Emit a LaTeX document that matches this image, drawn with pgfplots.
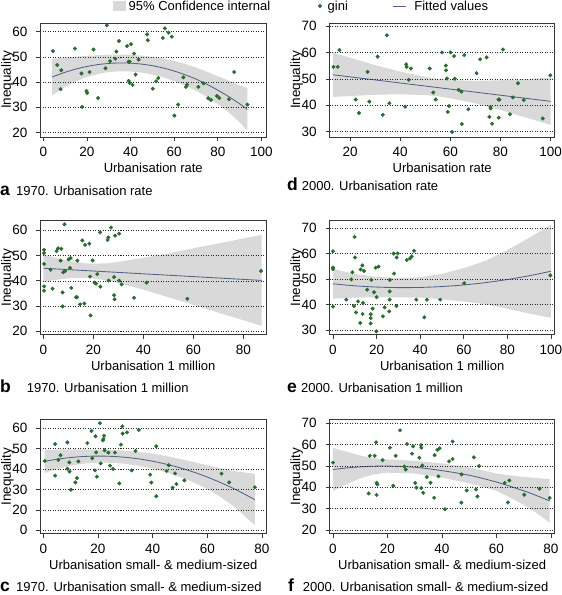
\documentclass[border=0pt]{standalone}
\usepackage{fontspec}
\setmainfont{Liberation Sans}
\usepackage{pgfplots}
\pgfplotsset{compat=1.18}
\definecolor{gini}{RGB}{40,108,46}
\definecolor{fitc}{RGB}{84,98,136}
\definecolor{band}{RGB}{217,217,217}
\definecolor{frame}{RGB}{55,55,55}
\newcommand{\tkfont}{\fontsize{13.5}{15}\selectfont}
\pgfplotsset{
  panel/.style={
    scale only axis, height=114pt, anchor=south west,
    axis on top,
    axis line style={frame, line width=0.7pt},
    tick align=outside, tick pos=left, major tick length=4pt,
    tick style={frame, line width=0.7pt},
    ymajorgrids, grid style={black!85, line width=0.6pt, dash pattern=on 1pt off 1.5pt},
    /pgf/number format/assume math mode=true,
    xticklabel style={font=\tkfont, inner sep=0pt, anchor=north, yshift=-6.2pt},
    yticklabel style={font=\tkfont, inner sep=0pt, anchor=east, xshift=-8.8pt},
    ylabel={Inequality},
    ylabel style={font=\fontsize{13.5}{15}\selectfont, at={(axis description cs:-0.147,0.5)}, anchor=center},
    xlabel style={font=\fontsize{13}{15}\selectfont, at={(axis description cs:0.5,0)}, anchor=base, yshift=-35.5pt},
    legend style={draw=none, fill=none, inner sep=0pt, outer sep=0pt,
      nodes={inner sep=0pt, text depth=0pt, font=\fontsize{13}{15}\selectfont}},
    legend cell align=left,
  },
  dotlegend/.style={legend image code/.code={\draw[##1] plot coordinates {(1.9pt,0pt)};}},
  linelegend/.style={legend image code/.code={\draw[##1] (0pt,0pt) -- (13.3pt,0pt); \path (14.9pt,0pt);}},
  boxlegend/.style={legend image code/.code={\fill[band] (0pt,-4.5pt) rectangle (11.7pt,4.5pt);}},
  pts/.style={only marks, mark=*, mark size=1.8pt, gini, mark options={draw=gini, fill=gini}},
  fit/.style={fitc, line width=0.85pt},
}
\newcommand{\capfont}{\fontsize{13}{15}\selectfont}
\newcommand{\letfont}{\fontsize{17.5}{19}\selectfont\bfseries}
\begin{document}
\begin{tikzpicture}
\useasboundingbox (0pt,0pt) rectangle (562pt,595pt);

% ---------- a ----------
\begin{axis}[panel, at={(40.5pt,458pt)}, width=225.5pt,
  xmin=-1.3, xmax=102.1, ymin=18.25, ymax=63.43,
  xtick={0,20,...,100}, ytick={20,30,...,60},
  xlabel={Urbanisation rate},
  legend style={at={(axis description cs:0,1)}, anchor=west, xshift=72.8pt, yshift=16.8pt,
    /tikz/every odd column/.append style={column sep=3.3pt}}]
\addlegendimage{boxlegend}
\addlegendentry{95\% Confidence internal}
\addplot[fill=band, draw=none, forget plot] table[row sep=\\] {
x y\\ 4 49.3\\ 10 49.7\\ 15 50.1\\ 20 50.4\\ 25 50.65\\ 30 50.8\\ 35 50.9\\ 40 50.8\\ 45 50.5\\ 50 50.0\\ 55 49.3\\ 60 48.4\\ 65 47.2\\ 70 45.8\\ 75 44.1\\ 80 42.3\\ 85 40.6\\ 90 38.7\\ 93.6 37.7\\
93.6 20.7\\ 90 24.1\\ 85 28.0\\ 80 31.3\\ 75 34.1\\ 70 36.6\\ 65 38.6\\ 60 40.4\\ 55 41.9\\ 50 43.0\\ 45 43.8\\ 40 44.2\\ 35 44.3\\ 30 44.0\\ 25 43.25\\ 20 42.0\\ 15 40.3\\ 10 38.1\\ 4 34.7\\
};
\addplot[fit, smooth, forget plot] table[row sep=\\] {
x y\\ 4 42.0\\ 10 43.9\\ 15 45.2\\ 20 46.2\\ 25 46.95\\ 30 47.4\\ 35 47.6\\ 40 47.5\\ 45 47.14\\ 50 46.5\\ 55 45.58\\ 60 44.4\\ 65 42.91\\ 70 41.2\\ 75 39.14\\ 80 36.8\\ 85 34.27\\ 90 31.4\\ 93.6 29.2\\
};
\addplot[pts, forget plot] table[row sep=\\] {
x y\\ 4.4 52.3\\ 6.4 46.8\\ 8.2 44.7\\ 7.9 37.2\\ 14.5 53.3\\ 17.5 43.4\\ 17.8 30.2\\ 19.8 36.5\\ 20.1 35.7\\ 21.2 44.0\\
23.0 52.9\\ 25.1 33.7\\ 28.5 45.5\\ 29.1 62.5\\ 30.6 48.3\\ 33.0 49.3\\ 33.5 52.1\\ 34.7 56.3\\ 38.4 54.3\\ 39.1 48.1\\
39.6 48.1\\ 39.1 40.5\\ 39.6 39.7\\ 40.2 55.0\\ 40.9 38.9\\ 41.6 51.3\\ 42.3 43.0\\ 43.7 48.9\\ 47.6 58.9\\ 47.9 56.6\\
50.2 37.4\\ 51.7 40.3\\ 52.7 41.6\\ 54.8 57.5\\ 55.7 61.3\\ 57.4 59.6\\ 58.9 58.0\\ 60.1 26.7\\ 61.8 31.1\\ 64.2 41.9\\
65.4 38.1\\ 65.9 39.0\\ 71.1 38.1\\ 73.5 39.5\\ 75.6 33.6\\ 76.9 32.9\\ 79.6 34.5\\ 80.7 33.7\\ 85.1 33.2\\ 87.5 44.0\\ 93.6 31.1\\
};
\end{axis}

% ---------- d ----------
\begin{axis}[panel, at={(329.7pt,458pt)}, width=225pt,
  xmin=11.9, xmax=101.65, ymin=27.97, ymax=71.27,
  xtick={20,40,...,100}, ytick={30,40,...,70},
  xlabel={Urbanisation rate},
  legend columns=2,
  legend style={at={(axis description cs:0,1)}, anchor=west, xshift=-11.5pt, yshift=17pt,
    /tikz/every odd column/.append style={column sep=5.9pt},
    /tikz/every even column/.append style={column sep=44.8pt}}]
\addlegendimage{pts, dotlegend}
\addlegendentry{gini}
\addlegendimage{fit, linelegend}
\addlegendentry{Fitted values}
\addplot[fill=band, draw=none, forget plot] table[row sep=\\] {
x y\\ 13.2 60.0\\ 20 58.1\\ 30 55.3\\ 40 52.8\\ 50 50.8\\ 55 50.05\\ 60 49.6\\ 70 49.3\\ 80 49.5\\ 90 50.0\\ 100 50.5\\
100 32.6\\ 90 35.4\\ 80 38.2\\ 70 40.7\\ 60 42.7\\ 55 43.45\\ 50 43.9\\ 40 44.2\\ 30 44.0\\ 20 43.5\\ 13.2 43.2\\
};
\addplot[fit, forget plot] table[row sep=\\] {
x y\\ 13.2 51.6\\ 100 41.52\\
};
\addplot[pts, forget plot] table[row sep=\\] {
x y\\ 13.4 54.6\\ 15.1 54.6\\ 15.8 61.0\\ 22.3 42.2\\ 23.6 37.1\\ 27.0 52.7\\ 27.7 41.4\\ 31.0 58.5\\ 33.1 36.4\\ 34.7 66.6\\
35.7 40.8\\ 42.0 39.5\\ 42.4 55.6\\ 42.6 54.6\\ 43.4 49.7\\ 44.3 54.0\\ 51.8 54.0\\ 53.2 44.9\\ 54.2 42.2\\ 56.7 60.1\\
58.2 55.1\\ 58.3 53.3\\ 58.7 50.2\\ 59.0 37.5\\ 59.5 39.7\\ 60.1 60.1\\ 60.7 29.9\\ 61.5 58.7\\ 61.8 50.1\\ 63.3 45.9\\
64.4 45.2\\ 64.6 32.9\\ 65.6 59.1\\ 67.2 38.5\\ 70.5 52.2\\ 71.9 57.5\\ 74.5 58.2\\ 75.6 35.6\\ 76.0 39.4\\ 76.1 38.8\\
76.7 33.0\\ 79.2 42.2\\ 79.6 42.2\\ 79.3 35.3\\ 81.0 61.2\\ 83.8 36.6\\ 85.0 43.0\\ 87.0 48.4\\ 89.3 42.0\\ 96.9 35.0\\ 99.9 51.4\\
};
\end{axis}

% ---------- b ----------
\begin{axis}[panel, at={(40.5pt,260.3pt)}, width=225.5pt,
  xmin=-1.13, xmax=89.07, ymin=18.67, ymax=63.82,
  xtick={0,20,...,80}, ytick={20,30,...,60},
  xlabel={Urbanisation 1 million}]
\addplot[fill=band, draw=none] table[row sep=\\] {
x y\\ 0 50.4\\ 5 49.1\\ 10 47.9\\ 18 46.8\\ 25 46.9\\ 30 47.5\\ 40 49.1\\ 50 50.9\\ 60 52.9\\ 70 54.8\\ 80 56.8\\ 87.3 58.2\\
87.3 22.2\\ 80 24.4\\ 70 27.4\\ 60 30.5\\ 50 33.5\\ 40 36.5\\ 30 39.2\\ 25 40.3\\ 18 41.2\\ 10 41.0\\ 5 40.4\\ 0 39.6\\
};
\addplot[fit] table[row sep=\\] {
x y\\ 0 45.0\\ 87.3 40.17\\
};
\addplot[pts] table[row sep=\\] {
x y\\ 0.3 52.3\\ 0.3 51.0\\ 0.3 46.7\\ 0.3 37.8\\ 0.3 36.1\\ 2.9 44.4\\ 3.7 36.9\\ 5.3 51.8\\ 5.9 52.9\\ 7.2 52.7\\
6.9 48.0\\ 7.7 35.4\\ 7.7 29.9\\ 8.5 62.4\\ 8.0 43.4\\ 8.7 43.9\\ 10.1 48.5\\ 10.9 49.0\\ 10.7 45.1\\ 11.2 37.2\\
13.1 33.5\\ 13.5 33.5\\ 13.6 48.0\\ 14.7 30.7\\ 15.6 56.0\\ 16.4 31.0\\ 16.7 54.2\\ 18.4 54.7\\ 18.7 41.7\\ 18.9 26.3\\
19.7 48.1\\ 20.5 39.3\\ 21.1 38.9\\ 21.6 42.7\\ 22.8 37.7\\ 22.7 59.2\\ 25.7 56.2\\ 26.0 57.2\\ 27.1 61.1\\ 26.1 40.1\\
28.3 34.3\\ 28.5 32.7\\ 28.3 41.5\\ 28.7 57.9\\ 30.3 58.7\\ 30.3 40.1\\ 31.3 38.6\\ 36.3 33.3\\ 41.3 39.3\\ 57.6 32.9\\ 87.1 43.9\\
};
\end{axis}

% ---------- e ----------
\begin{axis}[panel, at={(329.7pt,260.3pt)}, width=225pt,
  xmin=-1.51, xmax=101.7, ymin=28.3, ymax=72.87,
  xtick={0,20,...,100}, ytick={30,40,...,70},
  xlabel={Urbanisation 1 million}]
\addplot[fill=band, draw=none] table[row sep=\\] {
x y\\ 0 54.0\\ 10 52.0\\ 20 50.9\\ 30 50.5\\ 40 50.8\\ 50 52.1\\ 60 54.3\\ 70 57.2\\ 80 61.4\\ 90 66.2\\ 100 71.3\\
100 34.9\\ 90 36.6\\ 80 38.4\\ 70 40.2\\ 60 41.3\\ 50 42.1\\ 40 42.8\\ 30 42.9\\ 20 42.9\\ 10 42.8\\ 0 42.4\\
};
\addplot[fit, smooth] table[row sep=\\] {
x y\\ 0 48.2\\ 10 47.42\\ 20 46.92\\ 30 46.71\\ 40 46.78\\ 50 47.13\\ 60 47.76\\ 70 48.67\\ 80 49.87\\ 90 51.35\\ 100 53.11\\
};
\addplot[pts] table[row sep=\\] {
x y\\ 0 60.9\\ 0 54.6\\ 0 54.0\\ 0 39.3\\ 6.1 42.0\\ 8.4 49.9\\ 8.9 52.7\\ 9.9 66.5\\ 10.1 58.5\\ 9.6 39.5\\
10.6 37.0\\ 11.5 41.3\\ 12.5 32.9\\ 12.7 53.8\\ 13.5 55.4\\ 13.6 36.4\\ 13.8 40.7\\ 14.2 53.2\\ 15.7 45.9\\ 18.2 38.5\\
17.3 36.3\\ 17.3 34.8\\ 17.3 32.7\\ 17.6 49.7\\ 18.8 44.9\\ 19.6 54.5\\ 20.9 54.9\\ 20.0 43.0\\ 19.9 29.6\\ 22.9 35.5\\
23.7 39.0\\ 26.0 45.2\\ 26.1 49.7\\ 26.0 42.0\\ 25.8 37.4\\ 28.0 52.2\\ 27.8 60.0\\ 29.1 39.5\\ 29.2 58.5\\ 29.7 60.1\\
33.8 57.5\\ 35.3 58.1\\ 36.1 58.9\\ 37.2 61.1\\ 38.2 42.0\\ 41.9 35.1\\ 43.1 42.0\\ 49.2 42.0\\ 60.2 48.4\\ 99.7 51.5\\
};
\end{axis}

% ---------- c ----------
\begin{axis}[panel, at={(40.5pt,61.3pt)}, width=225.5pt,
  xmin=-1.04, xmax=81.47, ymin=8.35, ymax=64.23,
  xtick={0,20,...,80}, ytick={10,20,...,60}, yticklabels={0,20,30,40,50,60},
  xlabel={Urbanisation small- \& medium-sized}]
\addplot[fill=band, draw=none] table[row sep=\\] {
x y\\ 0.5 49.5\\ 5 49.6\\ 10 49.7\\ 15 49.7\\ 20 49.6\\ 25 49.5\\ 30 49.0\\ 35 48.4\\ 40 47.6\\ 45 46.4\\ 50 45.0\\ 55 43.5\\ 60 41.9\\ 65 40.4\\ 70 39.0\\ 77.4 37.7\\
77.4 12.5\\ 70 21.4\\ 65 26.2\\ 60 30.3\\ 55 33.5\\ 50 36.2\\ 45 38.4\\ 40 40.2\\ 35 41.6\\ 30 42.6\\ 25 43.1\\ 20 43.2\\ 15 42.7\\ 10 41.7\\ 5 40.0\\ 0.5 38.1\\
};
\addplot[fit, smooth] table[row sep=\\] {
x y\\ 0.5 43.8\\ 5 44.84\\ 10 45.69\\ 15 46.21\\ 20 46.4\\ 25 46.26\\ 30 45.79\\ 35 45.0\\ 40 43.88\\ 45 42.42\\ 50 40.64\\ 55 38.54\\ 60 36.10\\ 65 33.33\\ 70 30.24\\ 77.4 25.05\\
};
\addplot[pts] table[row sep=\\] {
x y\\ 0.5 44.0\\ 4.3 52.3\\ 4.3 36.8\\ 5.5 44.5\\ 6.3 46.8\\ 8.8 53.1\\ 8.8 40.2\\ 9.6 38.8\\ 10.1 29.9\\ 9.5 43.3\\
11.7 33.5\\ 12.3 35.6\\ 12.8 43.8\\ 16.1 52.8\\ 17.6 58.7\\ 17.9 45.3\\ 18.9 39.4\\ 19.1 56.1\\ 19.3 48.2\\ 19.6 36.3\\
20.7 62.5\\ 21.0 42.8\\ 21.8 54.1\\ 22.2 56.4\\ 22.0 54.8\\ 22.4 49.2\\ 23.8 48.1\\ 24.4 41.7\\ 25.5 40.1\\ 26.2 48.1\\
27.8 33.0\\ 28.4 52.0\\ 28.9 61.0\\ 29.0 57.4\\ 30.6 58.0\\ 32.3 39.4\\ 33.7 48.9\\ 34.9 59.2\\ 39.1 37.3\\ 39.5 33.4\\
41.3 51.2\\ 41.3 26.7\\ 45.1 39.1\\ 45.9 41.9\\ 47.3 30.9\\ 48.2 37.9\\ 48.7 32.7\\ 51.6 34.5\\ 65.2 37.8\\ 68.0 33.5\\ 77.4 31.1\\
};
\end{axis}

% ---------- f ----------
\begin{axis}[panel, at={(329.7pt,61.3pt)}, width=225pt,
  xmin=-1.21, xmax=81.36, ymin=18.3, ymax=71.57,
  xtick={0,20,...,80}, ytick={20,30,...,70},
  xlabel={Urbanisation small- \& medium-sized}]
\addplot[fill=band, draw=none] table[row sep=\\] {
x y\\ 0 58.4\\ 5 56.6\\ 10 54.8\\ 15 53.6\\ 20 53.0\\ 30 52.4\\ 40 51.1\\ 50 49.4\\ 60 46.4\\ 70 44.8\\ 75 44.3\\ 79.5 43.8\\
79.5 23.4\\ 75 27.7\\ 70 31.8\\ 60 38.4\\ 50 41.8\\ 40 44.5\\ 30 46.4\\ 20 46.8\\ 15 46.0\\ 10 44.2\\ 5 41.4\\ 0 38.2\\
};
\addplot[fit, smooth] table[row sep=\\] {
x y\\ 0 48.30\\ 5 49.03\\ 10 49.54\\ 15 49.83\\ 20 49.9\\ 30 49.36\\ 40 47.76\\ 50 45.62\\ 60 42.43\\ 70 38.34\\ 75 35.96\\ 79.5 33.63\\
};
\addplot[pts] table[row sep=\\] {
x y\\ 0 51.5\\ 13.1 37.1\\ 13.5 54.7\\ 15.3 54.7\\ 15.8 61.0\\ 16.0 42.1\\ 16.3 41.3\\ 16.0 36.4\\ 18.2 52.7\\ 20.9 58.5\\
22.1 40.7\\ 23.0 54.7\\ 24.6 66.6\\ 26.2 49.7\\ 26.7 48.3\\ 27.2 60.2\\ 29.0 55.7\\ 29.4 59.1\\ 30.2 42.0\\ 30.6 39.8\\
31.7 53.8\\ 32.3 59.7\\ 32.4 58.5\\ 32.8 50.1\\ 32.4 39.6\\ 33.1 37.4\\ 34.4 44.8\\ 35.8 42.1\\ 37.1 35.1\\ 37.3 55.0\\
38.3 57.5\\ 39.1 58.2\\ 38.7 45.1\\ 41.1 29.7\\ 42.6 52.1\\ 43.9 53.2\\ 43.9 61.4\\ 47.1 32.8\\ 47.2 46.0\\ 49.1 38.5\\
51.7 54.0\\ 52.5 39.0\\ 53.0 35.7\\ 53.6 49.9\\ 63.0 42.0\\ 64.7 43.2\\ 64.2 32.9\\ 70.2 36.5\\ 75.8 39.3\\ 79.5 35.0\\
};
\end{axis}

% ---------- captions ----------
\node[anchor=base west, inner sep=0pt, font=\letfont] at (0pt,399pt) {a};
\node[anchor=base west, inner sep=0pt, font=\capfont] at (16pt,399pt) {1970. Urbanisation rate};
\node[anchor=base west, inner sep=0pt, font=\letfont] at (287pt,404pt) {d};
\node[anchor=base west, inner sep=0pt, font=\capfont] at (301.7pt,404pt) {2000. Urbanisation rate};
\node[anchor=base west, inner sep=0pt, font=\letfont] at (0pt,202.5pt) {b};
\node[anchor=base west, inner sep=0pt, font=\capfont] at (26.7pt,202.5pt) {1970. Urbanisation 1 million};
\node[anchor=base west, inner sep=0pt, font=\letfont] at (287pt,202.5pt) {e};
\node[anchor=base west, inner sep=0pt, font=\capfont] at (301pt,202.5pt) {2000. Urbanisation 1 million};
\node[anchor=base west, inner sep=0pt, font=\letfont] at (0pt,3.2pt) {c};
\node[anchor=base west, inner sep=0pt, font=\capfont] at (16pt,3.2pt) {1970. Urbanisation small- \& medium-sized};
\node[anchor=base west, inner sep=0pt, font=\letfont] at (288pt,3.2pt) {f};
\node[anchor=base west, inner sep=0pt, font=\capfont] at (302.7pt,3.2pt) {2000. Urbanisation small- \& medium-sized};
\end{tikzpicture}
\end{document}
